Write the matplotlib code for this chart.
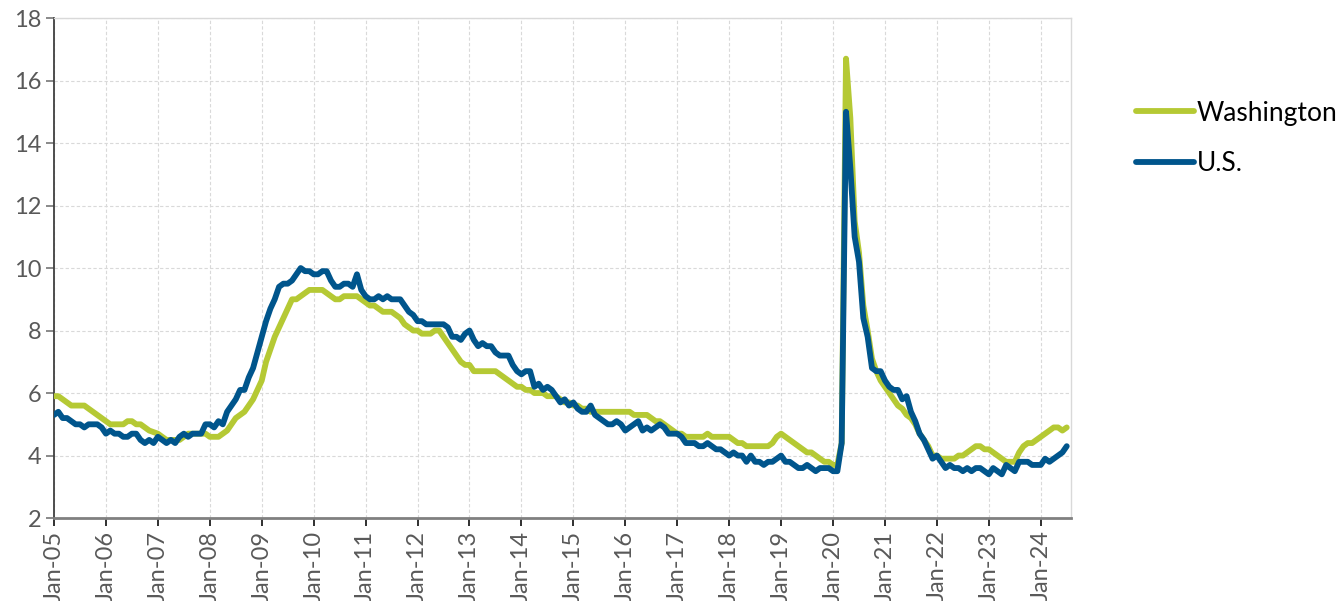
import matplotlib.pyplot as plt
import numpy as np

# monthly unemployment rate, Jan 2005 - Jul 2024 (%)
washington = [
    5.9, 5.9, 5.8, 5.7, 5.6, 5.6, 5.6, 5.6, 5.5, 5.4, 5.3, 5.2,   # 2005
    5.1, 5.0, 5.0, 5.0, 5.0, 5.1, 5.1, 5.0, 5.0, 4.9, 4.8, 4.75,  # 2006
    4.7, 4.6, 4.5, 4.5, 4.5, 4.5, 4.6, 4.7, 4.7, 4.7, 4.7, 4.7,   # 2007
    4.6, 4.6, 4.6, 4.7, 4.8, 5.0, 5.2, 5.3, 5.4, 5.6, 5.8, 6.1,   # 2008
    6.4, 7.0, 7.4, 7.8, 8.1, 8.4, 8.7, 9.0, 9.0, 9.1, 9.2, 9.3,   # 2009
    9.3, 9.3, 9.3, 9.2, 9.1, 9.0, 9.0, 9.1, 9.1, 9.1, 9.1, 9.0,   # 2010
    8.9, 8.8, 8.8, 8.7, 8.6, 8.6, 8.6, 8.5, 8.4, 8.2, 8.1, 8.0,   # 2011
    8.0, 7.9, 7.9, 7.9, 8.0, 8.0, 7.8, 7.6, 7.4, 7.2, 7.0, 6.9,   # 2012
    6.9, 6.7, 6.7, 6.7, 6.7, 6.7, 6.7, 6.6, 6.5, 6.4, 6.3, 6.2,   # 2013
    6.2, 6.1, 6.1, 6.0, 6.0, 6.0, 5.9, 5.9, 5.9, 5.8, 5.7, 5.7,   # 2014
    5.6, 5.6, 5.5, 5.5, 5.4, 5.4, 5.4, 5.4, 5.4, 5.4, 5.4, 5.4,   # 2015
    5.4, 5.4, 5.3, 5.3, 5.3, 5.3, 5.2, 5.1, 5.1, 5.0, 4.9, 4.8,   # 2016
    4.7, 4.7, 4.6, 4.6, 4.6, 4.6, 4.6, 4.7, 4.6, 4.6, 4.6, 4.6,   # 2017
    4.6, 4.5, 4.4, 4.4, 4.3, 4.3, 4.3, 4.3, 4.3, 4.3, 4.4, 4.6,   # 2018
    4.7, 4.6, 4.5, 4.4, 4.3, 4.2, 4.1, 4.1, 4.0, 3.9, 3.8, 3.8,   # 2019
    3.7, 3.7, 4.4, 16.7, 14.8, 11.5, 10.5, 8.8, 8.0, 7.1, 6.7, 6.4,  # 2020
    6.2, 6.0, 5.8, 5.6, 5.5, 5.3, 5.2, 5.0, 4.7, 4.5, 4.3, 4.0,   # 2021
    4.0, 3.9, 3.9, 3.9, 3.9, 4.0, 4.0, 4.1, 4.2, 4.3, 4.3, 4.2,   # 2022
    4.2, 4.1, 4.0, 3.9, 3.8, 3.8, 3.8, 4.1, 4.3, 4.4, 4.4, 4.5,   # 2023
    4.6, 4.7, 4.8, 4.9, 4.9, 4.8, 4.9,                            # 2024
]

us = [
    5.3, 5.4, 5.2, 5.2, 5.1, 5.0, 5.0, 4.9, 5.0, 5.0, 5.0, 4.9,   # 2005
    4.7, 4.8, 4.7, 4.7, 4.6, 4.6, 4.7, 4.7, 4.5, 4.4, 4.5, 4.4,   # 2006
    4.6, 4.5, 4.4, 4.5, 4.4, 4.6, 4.7, 4.6, 4.7, 4.7, 4.7, 5.0,   # 2007
    5.0, 4.9, 5.1, 5.0, 5.4, 5.6, 5.8, 6.1, 6.1, 6.5, 6.8, 7.3,   # 2008
    7.8, 8.3, 8.7, 9.0, 9.4, 9.5, 9.5, 9.6, 9.8, 10.0, 9.9, 9.9,  # 2009
    9.8, 9.8, 9.9, 9.9, 9.6, 9.4, 9.4, 9.5, 9.5, 9.4, 9.8, 9.3,   # 2010
    9.1, 9.0, 9.0, 9.1, 9.0, 9.1, 9.0, 9.0, 9.0, 8.8, 8.6, 8.5,   # 2011
    8.3, 8.3, 8.2, 8.2, 8.2, 8.2, 8.2, 8.1, 7.8, 7.8, 7.7, 7.9,   # 2012
    8.0, 7.7, 7.5, 7.6, 7.5, 7.5, 7.3, 7.2, 7.2, 7.2, 6.9, 6.7,   # 2013
    6.6, 6.7, 6.7, 6.2, 6.3, 6.1, 6.2, 6.1, 5.9, 5.7, 5.8, 5.6,   # 2014
    5.7, 5.5, 5.4, 5.4, 5.6, 5.3, 5.2, 5.1, 5.0, 5.0, 5.1, 5.0,   # 2015
    4.8, 4.9, 5.0, 5.1, 4.8, 4.9, 4.8, 4.9, 5.0, 4.9, 4.7, 4.7,   # 2016
    4.7, 4.6, 4.4, 4.4, 4.4, 4.3, 4.3, 4.4, 4.3, 4.2, 4.2, 4.1,   # 2017
    4.0, 4.1, 4.0, 4.0, 3.8, 4.0, 3.8, 3.8, 3.7, 3.8, 3.8, 3.9,   # 2018
    4.0, 3.8, 3.8, 3.7, 3.6, 3.6, 3.7, 3.6, 3.5, 3.6, 3.6, 3.6,   # 2019
    3.5, 3.5, 4.4, 15.0, 13.2, 11.0, 10.2, 8.4, 7.8, 6.8, 6.7, 6.7,  # 2020
    6.4, 6.2, 6.1, 6.1, 5.8, 5.9, 5.4, 5.1, 4.7, 4.5, 4.2, 3.9,   # 2021
    4.0, 3.8, 3.6, 3.7, 3.6, 3.6, 3.5, 3.6, 3.5, 3.6, 3.6, 3.5,   # 2022
    3.4, 3.6, 3.5, 3.4, 3.7, 3.6, 3.5, 3.8, 3.8, 3.8, 3.7, 3.7,   # 2023
    3.7, 3.9, 3.8, 3.9, 4.0, 4.1, 4.3,                            # 2024
]

tick_labels = ['Jan-%02d' % y for y in range(5, 25)]

green = '#b5c934'
blue = '#00558c'
gray_text = '#595959'

fig = plt.figure(figsize=(13.4, 6.01), dpi=100)
ax = fig.add_axes([0.0403, 0.138, 0.759, 0.832])

x = np.arange(len(us))
ax.plot(x, washington, color=green, lw=4.2, solid_capstyle='round', label='Washington', zorder=3)
ax.plot(x, us, color=blue, lw=4.2, solid_capstyle='round', label='U.S.', zorder=4)

ax.set_xlim(0, 235)
ax.set_ylim(2, 18)
ax.set_yticks(np.arange(2, 19, 2))
ax.set_xticks(np.arange(0, 12 * len(tick_labels), 12))
ax.set_xticklabels(tick_labels, rotation=90)

ax.grid(True, color='#d9d9d9', ls=(0, (3, 2)), lw=0.8)
ax.set_axisbelow(True)

for side in ['top', 'right']:
    ax.spines[side].set_color('#d9d9d9')
    ax.spines[side].set_linewidth(1.0)
ax.spines['left'].set_color('#404040')
ax.spines['left'].set_linewidth(1.3)
ax.spines['bottom'].set_color('#808080')
ax.spines['bottom'].set_linewidth(2.0)

ax.tick_params(axis='y', length=6, width=1.3, color='#808080', labelsize=17,
               labelcolor=gray_text, pad=3)
ax.tick_params(axis='x', length=6, width=1.3, color='#202020', labelsize=17,
               labelcolor=gray_text, pad=3)
for lab in ax.get_xticklabels() + ax.get_yticklabels():
    lab.set_family('Lato')

fig.legend(loc='upper left', bbox_to_anchor=(0.84, 0.85), frameon=False,
           prop={'family': 'Lato', 'size': 19}, handlelength=2.2,
           handletextpad=0.1, labelspacing=0.95, borderaxespad=0)

fig.savefig('out.png', dpi=100)
